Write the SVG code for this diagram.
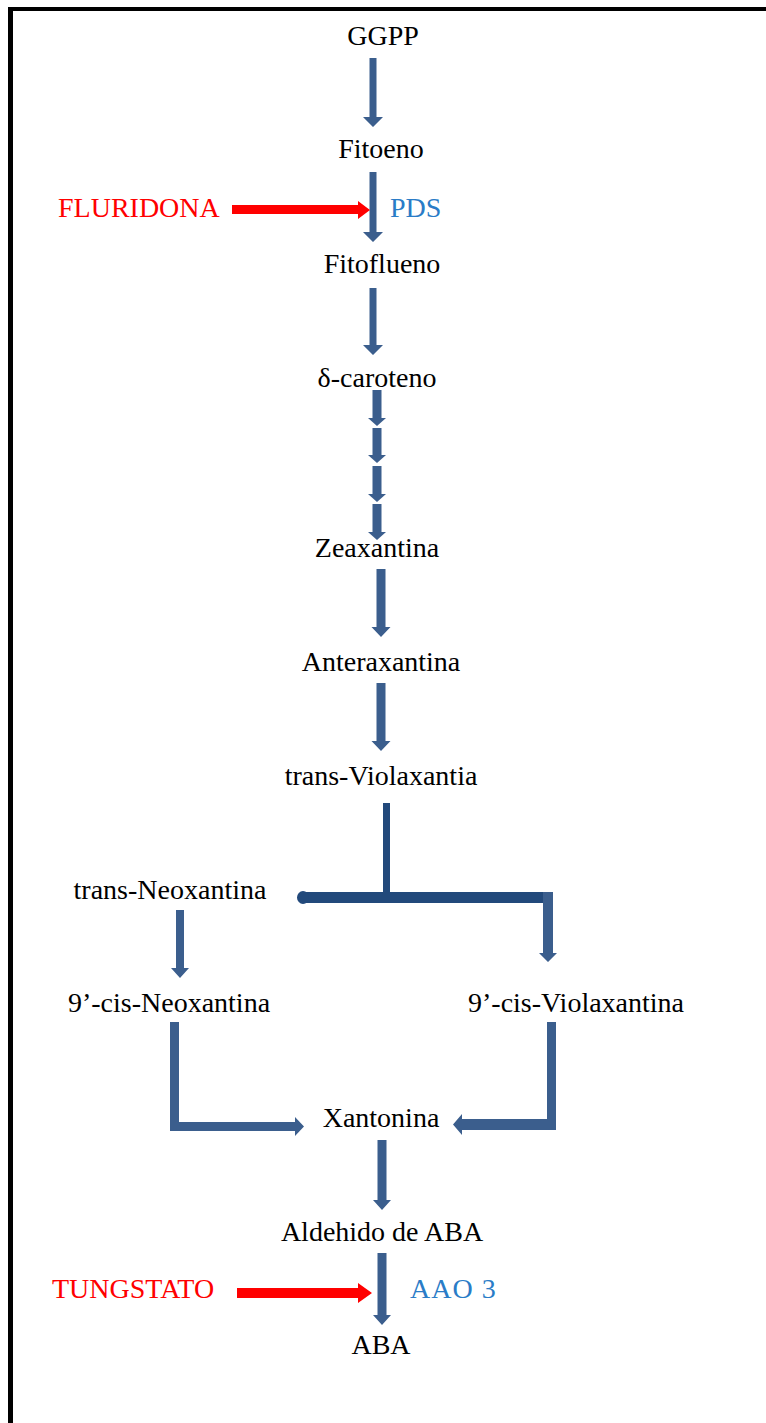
<svg xmlns="http://www.w3.org/2000/svg" width="766" height="1423" viewBox="0 0 766 1423">
<style>
.t{font-family:"Liberation Serif","Times New Roman",serif;font-size:28px;fill:#000}
.c{text-anchor:middle}
.r{fill:#FF0000}
.b{fill:#2A7CC7}
.a{fill:#3B5E8D}
.d{fill:#22497B}
.red{fill:#FF0000}
</style>
<rect x="0" y="0" width="766" height="1423" fill="#fff"/>
<g id="frame">
<rect x="8" y="7" width="758" height="4" fill="#000"/>
<rect x="8" y="7" width="5" height="1416" fill="#000"/>
</g>
<g id="connectors">
<polygon class="a" points="369.5,58 376.5,58 376.5,117 383,117 373,127 363,117 369.5,117"/>
<polygon class="a" points="369.5,172 376.5,172 376.5,232 383,232 373,242 363,232 369.5,232"/>
<polygon class="a" points="369.5,288 376.5,288 376.5,345 383,345 373,355 363,345 369.5,345"/>
<polygon class="a" points="372.5,390 381.5,390 381.5,418 386,418 377,426 368,418 372.5,418"/>
<polygon class="a" points="372.5,428 381.5,428 381.5,455 386,455 377,463 368,455 372.5,455"/>
<polygon class="a" points="372.5,466 381.5,466 381.5,494 386,494 377,502 368,494 372.5,494"/>
<polygon class="a" points="372.5,504 381.5,504 381.5,532 386,532 377,540 368,532 372.5,532"/>
<polygon class="a" points="376.5,569 385.5,569 385.5,627 390.5,627 381,637 371.5,627 376.5,627"/>
<polygon class="a" points="376.5,683 385.5,683 385.5,741 390.5,741 381,751 371.5,741 376.5,741"/>
<rect class="d" x="383" y="803" width="7" height="92"/>
<rect class="d" x="302" y="892" width="251" height="11"/>
<ellipse class="d" cx="303" cy="897.5" rx="6" ry="6.5"/>
<polygon class="a" points="543,892 553,892 553,953 557,953 548,962 539,953 543,953"/>
<polygon class="a" points="176,910 184,910 184,968 189,968 180,978 171,968 176,968"/>
<polygon class="a" points="170,1022 179,1022 179,1122 295,1122 295,1117 304,1126.5 295,1136 295,1131 170,1131"/>
<polygon class="a" points="547,1022 556,1022 556,1130 462,1130 462,1135 453,1124.5 462,1114 462,1119 547,1119"/>
<polygon class="a" points="377.5,1140 386.5,1140 386.5,1200 391,1200 382,1210 373,1200 377.5,1200"/>
<polygon class="a" points="377.5,1253 386.5,1253 386.5,1315 391,1315 382,1325 373,1315 377.5,1315"/>
<polygon class="red" points="232,205 358,205 358,201 370,210 358,219 358,214 232,214"/>
<polygon class="red" points="237,1288 358,1288 358,1283 372,1293 358,1303 358,1298 237,1298"/>
</g>
<g id="n-ggpp"><text class="t c" x="383" y="45">GGPP</text></g>
<g id="n-fitoeno"><text class="t c" x="381" y="158">Fitoeno</text></g>
<g id="n-fluridona"><text class="t r" x="58" y="217">FLURIDONA</text></g>
<g id="n-pds"><text class="t b" x="390" y="217">PDS</text></g>
<g id="n-fitoflueno"><text class="t c" x="382" y="273">Fitoflueno</text></g>
<g id="n-dcaroteno"><text class="t c" x="377" y="387">δ-caroteno</text></g>
<g id="n-zeaxantina"><text class="t c" x="377" y="557">Zeaxantina</text></g>
<g id="n-anteraxantina"><text class="t c" x="381" y="671">Anteraxantina</text></g>
<g id="n-tviolaxantia"><text class="t c" x="381" y="785">trans-Violaxantia</text></g>
<g id="n-tneoxantina"><text class="t c" x="170" y="899">trans-Neoxantina</text></g>
<g id="n-9cneoxantina"><text class="t c" x="169" y="1012">9’-cis-Neoxantina</text></g>
<g id="n-9cviolaxantina"><text class="t c" x="576" y="1012">9’-cis-Violaxantina</text></g>
<g id="n-xantonina"><text class="t c" x="381" y="1127">Xantonina</text></g>
<g id="n-aldehido"><text class="t c" x="382" y="1241">Aldehido de ABA</text></g>
<g id="n-tungstato"><text class="t r" x="52" y="1298">TUNGSTATO</text></g>
<g id="n-aao3"><text class="t b" x="410" y="1298" letter-spacing="1">AAO 3</text></g>
<g id="n-aba"><text class="t c" x="381" y="1354">ABA</text></g>
</svg>
